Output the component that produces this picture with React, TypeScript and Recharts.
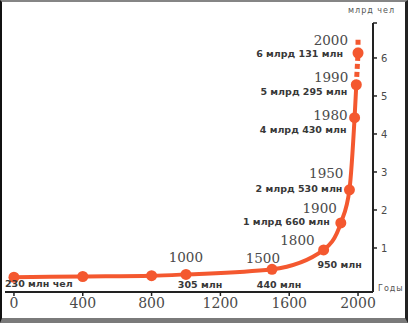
import React from "react";
import { ComposedChart, Line, Scatter, XAxis, YAxis } from "recharts";

// world population, billions
const years = [0, 400, 800, 1000, 1500, 1800, 1900, 1950, 1980, 1990, 2000];
const population = [0.23, 0.25, 0.27, 0.305, 0.44, 0.95, 1.66, 2.53, 4.43, 5.295, 6.131];
const yearLabels = ["", "", "", "1000", "1500", "1800", "1900", "1950", "1980", "1990", "2000"];
const valueLabels = [
  "230 млн чел",
  "",
  "",
  "305 млн",
  "440 млн",
  "950 млн",
  "1 млрд 660 млн",
  "2 млрд 530 млн",
  "4 млрд 430 млн",
  "5 млрд 295 млн",
  "6 млрд 131 млн",
];
const forecastYears = [1990, 2000, 2000];
const forecastValues = [5.295, 6.131, 6.5];
const xTicks = [0, 400, 800, 1200, 1600, 2000];
const yTicks = [1, 2, 3, 4, 5, 6];

const points = years.map((year, i) => ({
  year,
  population: population[i],
}));
const solidPart = points.slice(0, 10);
const forecast = forecastYears.map((year, i) => ({
  year,
  population: forecastValues[i],
}));

const RED = "#f4582f";
const Y_MAX = 6.92;

// label offsets relative to each dot: [dx, dy, anchor]
const labelLayout: any[] = [
  { v: [-9, 10, "start"] },
  {},
  {},
  { y: [17, -12, "end"], v: [14, 13.5, "middle"] },
  { y: [8, -6, "end"], v: [7, 18.5, "middle"] },
  { y: [-9, -5, "end"], v: [16, 18, "middle"] },
  { y: [-4, -10, "end"], v: [-11, 2, "end"] },
  { y: [-6, -12, "end"], v: [-7, 2, "end"] },
  { y: [-7, 2, "end"], v: [-8, 15.5, "end"] },
  { y: [-8, -3, "end"], v: [-9, 10, "end"] },
  { y: [-10, -8, "end"], v: [-15, 4, "end"] },
];

const renderPoint = (props: any) => {
  const { cx, cy, payload } = props;
  const i = years.indexOf(payload.year);
  const lay = labelLayout[i] || {};
  return (
    <g>
      <circle cx={cx} cy={cy} r={5.5} fill={RED} />
      {lay.y && (
        <text
          x={cx + lay.y[0]}
          y={cy + lay.y[1]}
          textAnchor={lay.y[2]}
          fontFamily="DejaVu Serif"
          fontSize={13.5}
          fill="#4a4a4a"
        >
          {yearLabels[i]}
        </text>
      )}
      {lay.v && (
        <text
          x={cx + lay.v[0]}
          y={cy + lay.v[1]}
          textAnchor={lay.v[2]}
          fontFamily="DejaVu Sans"
          fontWeight="bold"
          fontSize={9.5}
          fill="#383838"
        >
          {valueLabels[i]}
        </text>
      )}
    </g>
  );
};

export default function App() {
  return (
    <div
      style={{
        position: "absolute",
        top: 0,
        left: 0,
        width: 408,
        height: 323,
        background: "#fff",
      }}
    >
      <ComposedChart
        width={408}
        height={323}
        data={points}
        margin={{ top: 23, right: 0, bottom: 0, left: 5 }}
      >
        <XAxis
          dataKey="year"
          type="number"
          domain={[-52, 2087]}
          allowDataOverflow
          ticks={xTicks}
          height={31}
          axisLine={{ stroke: "#222", strokeWidth: 2 }}
          tickLine={{ stroke: "#222", strokeWidth: 1.5 }}
          tickSize={4}
          tickMargin={2}
          tick={{ fontFamily: "DejaVu Serif", fontSize: 14, fill: "#4a4a4a" }}
        />
        <YAxis
          orientation="right"
          type="number"
          domain={[-0.158, Y_MAX]}
          allowDataOverflow
          ticks={[...yTicks, Y_MAX]}
          tickFormatter={(v: number) => (v === Y_MAX ? "" : String(v))}
          width={35}
          axisLine={{ stroke: "#222", strokeWidth: 2 }}
          tickLine={{ stroke: "#222", strokeWidth: 1.5 }}
          tickSize={4}
          tickMargin={4}
          tick={{ fontFamily: "DejaVu Sans", fontSize: 10, fill: "#4a4a4a" }}
        />
        <Line
          data={solidPart}
          dataKey="population"
          type="monotone"
          stroke={RED}
          strokeWidth={4}
          dot={false}
          isAnimationActive={false}
        />
        <Line
          data={forecast}
          dataKey="population"
          type="linear"
          stroke={RED}
          strokeWidth={5}
          strokeDasharray="5 3"
          dot={false}
          isAnimationActive={false}
        />
        <Scatter
          data={points}
          dataKey="population"
          shape={renderPoint}
          isAnimationActive={false}
        />
      </ComposedChart>
      <span
        style={{
          position: "absolute",
          left: 348,
          top: 6,
          fontFamily: "DejaVu Sans",
          fontSize: 8,
          letterSpacing: 1,
          color: "#555",
        }}
      >
        млрд чел
      </span>
      <span
        style={{
          position: "absolute",
          left: 378,
          top: 284,
          fontFamily: "DejaVu Sans",
          fontSize: 8,
          letterSpacing: 1,
          color: "#555",
        }}
      >
        Годы
      </span>
      <div
        style={{
          position: "absolute",
          inset: 0,
          boxSizing: "border-box",
          borderTop: "2px solid #858585",
          borderLeft: "2px solid #111",
          borderRight: "3px solid #222",
          borderBottom: "5px solid #7a7a7a",
          pointerEvents: "none",
        }}
      />
    </div>
  );
}
